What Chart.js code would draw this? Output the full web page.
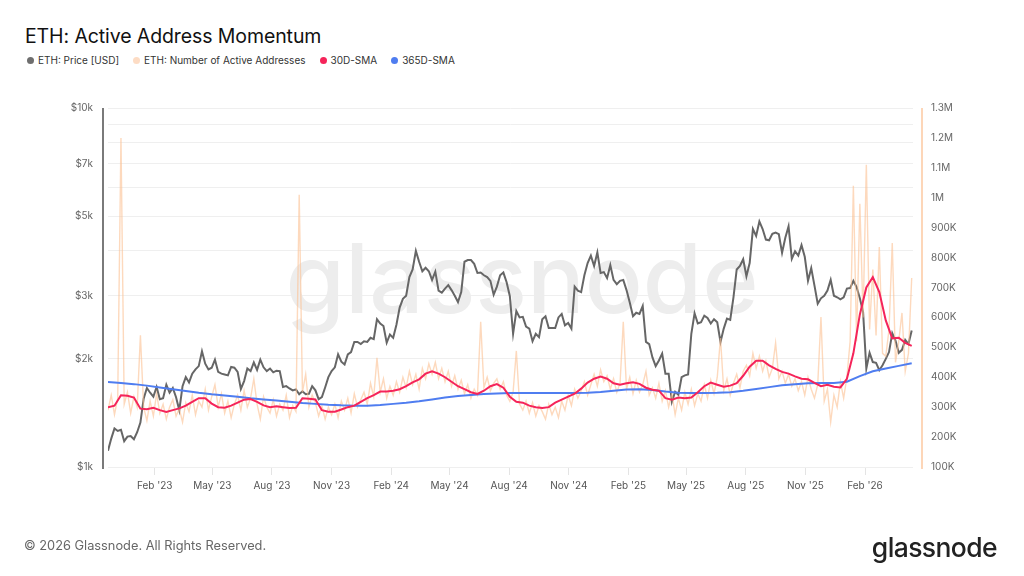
<!DOCTYPE html>
<html>
<head>
<meta charset="utf-8">
<script src="https://cdn.jsdelivr.net/npm/chart.js@4.4.0/dist/chart.umd.min.js"></script>
<style>
  html, body { margin: 0; padding: 0; background: #fff; }
  body { width: 1024px; height: 576px; position: relative; overflow: hidden; font-family: Inter, "Noto Sans", sans-serif; }
  #mycanvas { position: absolute; left: 0; top: 0; }
  .title { position: absolute; left: 25px; top: 24px; font-size: 19.5px; color: #111; letter-spacing: -0.1px; }
  .legend { position: absolute; left: 27px; top: 54px; display: flex; font-size: 10px; color: #333; }
  .legend span { display: flex; align-items: center; margin-right: 14px; }
  .legend i { width: 7px; height: 7px; border-radius: 50%; margin-right: 4px; display: inline-block; }
  .copy { position: absolute; left: 24px; top: 538px; font-size: 12.8px; color: #666; }
  .logo { position: absolute; right: 27px; top: 531px; font-size: 26.5px; color: #222; letter-spacing: -0.6px; font-weight: 500; }
</style>
</head>
<body>
<div class="title">ETH: Active Address Momentum</div>
<div class="legend">
  <span><i style="background:#6e6e6e"></i>ETH: Price [USD]</span>
  <span><i style="background:#fddcc4"></i>ETH: Number of Active Addresses</span>
  <span><i style="background:#f5245a"></i>30D-SMA</span>
  <span><i style="background:#4f7df0"></i>365D-SMA</span>
</div>
<canvas id="mycanvas" width="1024" height="576"></canvas>
<div class="copy">© 2026 Glassnode. All Rights Reserved.</div>
<div class="logo">glassnode</div>
<script>
// dates are days since startDate
const startDate = "2022-11-21";
const lastDay = 1242;
const dailyStep = 5;   // price + addresses sampled every 5 days
const sma30Step = 10;
const sma365Step = 20;

const xTickDates = ["2023-02-01", "2023-05-01", "2023-08-01", "2023-11-01", "2024-02-01", "2024-05-01",
  "2024-08-01", "2024-11-01", "2025-02-01", "2025-05-01", "2025-08-01", "2025-11-01", "2026-02-01"];
const xTickLabels = ["Feb '23", "May '23", "Aug '23", "Nov '23", "Feb '24", "May '24",
  "Aug '24", "Nov '24", "Feb '25", "May '25", "Aug '25", "Nov '25", "Feb '26"];

const priceTicks = [1000, 2000, 3000, 4000, 5000, 6000, 7000, 8000, 9000, 10000];
const priceTickLabels = { 1000: "$1k", 2000: "$2k", 3000: "$3k", 5000: "$5k", 7000: "$7k", 10000: "$10k" };

// ETH price, USD
const ethPrice = [
  1110, 1200, 1280, 1260, 1270, 1180, 1215, 1220, 1195, 1250,
  1330, 1550, 1660, 1610, 1570, 1670, 1545, 1555, 1695, 1610,
  1660, 1565, 1440, 1680, 1780, 1720, 1820, 1870, 1910, 2100,
  1940, 1870, 1890, 1990, 1840, 1820, 1810, 1800, 1900, 1890,
  1840, 1650, 1735, 1880, 1850, 1955, 1865, 1990, 1895, 1850,
  1880, 1835, 1855, 1850, 1670, 1680, 1655, 1635, 1645, 1595,
  1625, 1595, 1600, 1680, 1635, 1545, 1565, 1665, 1780, 1850,
  1895, 2060, 1965, 1930, 2060, 2090, 2230, 2230, 2200, 2240,
  2230, 2290, 2270, 2580, 2510, 2470, 2220, 2340, 2290, 2490,
  2780, 2940, 3000, 3380, 3550, 4000, 3730, 3510, 3590, 3510,
  3320, 3500, 3100, 3060, 3140, 3210, 3110, 3000, 2880, 3070,
  3730, 3770, 3770, 3680, 3470, 3480, 3420, 3380, 3300, 3020,
  3180, 3420, 3480, 3270, 2990, 2350, 2720, 2610, 2620, 2460,
  2430, 2240, 2350, 2300, 2580, 2630, 2440, 2440, 2440, 2610,
  2670, 2480, 2520, 2430, 3180, 3100, 3070, 3420, 3700, 3880,
  3630, 3960, 3470, 3490, 3360, 3650, 3320, 3230, 3300, 3320,
  3110, 2870, 2630, 2690, 2670, 2810, 2230, 2200, 2020, 1910,
  1980, 2070, 1820, 1820, 1520, 1620, 1590, 1780, 1800, 1810,
  2350, 2680, 2510, 2530, 2640, 2600, 2510, 2580, 2530, 2230,
  2430, 2590, 2570, 2970, 3550, 3630, 3790, 3400, 3700, 4600,
  4400, 4830, 4600, 4300, 4280, 4460, 4500, 4450, 3950, 4350,
  4680, 3800, 3990, 3880, 4150, 3850, 3300, 3580, 3200, 2850,
  2950, 3000, 3100, 3320, 3000, 2970, 2930, 2970, 3140, 3150,
  3300, 3170, 2950, 2700, 1880, 2080, 1960, 1950, 1860, 1920,
  2000, 2090, 2360, 2250, 2080, 2120, 2260, 2200, 2400
];

// active addresses, thousands
const activeAddrK = [
  290, 340, 275, 330, 1200, 310, 350, 280, 335, 300,
  540, 300, 255, 320, 270, 345, 280, 310, 260, 300,
  325, 270, 295, 250, 315, 285, 340, 275, 320, 300,
  360, 290, 335, 375, 300, 345, 280, 320, 265, 310,
  340, 290, 355, 300, 330, 395, 310, 260, 335, 300,
  280, 325, 270, 310, 290, 340, 265, 305, 285, 1010,
  350, 410, 300, 340, 315, 270, 305, 260, 300, 275,
  310, 265, 320, 290, 330, 280, 345, 300, 325, 350,
  310, 380, 335, 465, 350, 395, 330, 370, 340, 385,
  350, 400, 365, 420, 375, 410, 360, 430, 395, 445,
  410, 450, 395, 430, 385, 420, 370, 405, 360, 390,
  345, 375, 330, 360, 340, 585, 365, 400, 355, 380,
  395, 360, 385, 340, 320, 350, 488, 310, 290, 320,
  280, 315, 270, 305, 285, 260, 310, 275, 300, 265,
  320, 290, 340, 305, 360, 330, 355, 385, 340, 375,
  410, 370, 425, 385, 405, 360, 395, 350, 380, 585,
  360, 400, 345, 390, 350, 375, 420, 340, 365, 330,
  380, 320, 355, 300, 345, 275, 330, 290, 350, 310,
  360, 305, 345, 320, 375, 330, 390, 345, 400, 531,
  355, 395, 340, 380, 410, 365, 420, 440, 405, 480,
  430, 470, 420, 455, 400, 430, 515, 395, 420, 380,
  410, 370, 395, 355, 385, 340, 400, 360, 330, 375,
  601, 320, 360, 250, 340, 300, 385, 330, 400, 520,
  1040, 520, 980, 600, 1110, 560, 760, 540, 835, 480,
  470, 560, 849, 450, 520, 615, 420, 480, 732
];

// 30-day SMA of active addresses, thousands
const sma30K = [
  300, 305, 340, 338, 332, 295, 293, 298, 290, 284,
  290, 296, 305, 318, 330, 330, 312, 300, 298, 305,
  315, 325, 327, 318, 306, 300, 303, 300, 297, 298,
  330, 328, 326, 290, 285, 285, 292, 300, 305, 318,
  330, 340, 352, 352, 355, 360, 370, 383, 393, 412,
  420, 412, 400, 385, 370, 360, 350, 344, 355, 370,
  377, 365, 335, 318, 315, 305, 300, 297, 300, 315,
  325, 335, 345, 362, 382, 395, 402, 395, 380, 375,
  380, 383, 378, 365, 358, 355, 330, 325, 332, 330,
  332, 350, 370, 382, 375, 368, 372, 380, 405, 435,
  455, 455, 440, 428, 418, 412, 403, 395, 393, 381,
  370, 375, 368, 366, 395, 480, 610, 700, 735, 685,
  590, 530, 532, 515, 505
];

// 365-day SMA of active addresses, thousands
const sma365K = [
  384, 381, 377, 372, 366, 360, 354, 348, 343, 339,
  335, 330, 326, 322, 318, 314, 311, 308, 306, 305,
  305, 307, 311, 315, 320, 326, 332, 337, 341, 344,
  346, 347, 347, 347, 347, 347, 347, 348, 351, 355,
  359, 360, 357, 352, 348, 347, 347, 348, 350, 355,
  361, 367, 373, 377, 380, 381, 381, 385, 404, 420,
  429, 438, 447
];

function dayOf(iso) {
  return (Date.parse(iso) - Date.parse(startDate)) / 86400000;
}
function toPoints(values, step, mult) {
  return values.map((v, i) => ({ x: i * step, y: v * mult }));
}
const xTickDays = xTickDates.map(dayOf);

const axisDecor = {
  id: "axisDecor",
  beforeDatasetsDraw(chart) {
    const { ctx } = chart;
    ctx.save();
    ctx.font = "500 96px Inter";
    ctx.fillStyle = "#ededed";
    ctx.textAlign = "center";
    ctx.textBaseline = "alphabetic";
    ctx.fillText("glassnode", 522, 313);
    ctx.restore();
  },
  afterDatasetsDraw(chart) {
    const { ctx, chartArea } = chart;
    ctx.save();
    ctx.lineWidth = 2;
    ctx.strokeStyle = "#7a7a7a";
    ctx.beginPath();
    ctx.moveTo(chartArea.left - 5, chartArea.top);
    ctx.lineTo(chartArea.left - 5, chartArea.bottom + 2);
    ctx.stroke();
    ctx.strokeStyle = "#fdd6b8";
    ctx.beginPath();
    ctx.moveTo(chartArea.right + 9, chartArea.top);
    ctx.lineTo(chartArea.right + 9, chartArea.bottom + 2);
    ctx.stroke();
    ctx.restore();
  }
};

const tickFont = { family: "Inter", size: 10 };

let chart = new Chart(document.getElementById("mycanvas"), {
  type: "line",
  data: {
    datasets: [
      {
        label: "ETH: Price [USD]",
        data: toPoints(ethPrice, dailyStep, 1),
        yAxisID: "yPrice",
        borderColor: "#666666",
        borderWidth: 2,
        order: 4
      },
      {
        label: "ETH: Number of Active Addresses",
        data: toPoints(activeAddrK, dailyStep, 1000),
        yAxisID: "yAddr",
        borderColor: "rgba(252, 192, 145, 0.6)",
        borderWidth: 1.4,
        order: 3
      },
      {
        label: "30D-SMA",
        data: toPoints(sma30K, sma30Step, 1000),
        yAxisID: "yAddr",
        borderColor: "#f5245a",
        borderWidth: 2,
        order: 1
      },
      {
        label: "365D-SMA",
        data: toPoints(sma365K, sma365Step, 1000),
        yAxisID: "yAddr",
        borderColor: "#4f7df0",
        borderWidth: 2,
        order: 2
      }
    ]
  },
  options: {
    responsive: false,
    animation: false,
    devicePixelRatio: 1,
    layout: { padding: { top: 108, left: 0, right: 0, bottom: 0 } },
    elements: { point: { radius: 0 }, line: { tension: 0 } },
    plugins: { legend: { display: false }, tooltip: { enabled: false } },
    scales: {
      x: {
        type: "linear",
        min: 0,
        max: lastDay,
        afterBuildTicks: (scale) => { scale.ticks = xTickDays.map(v => ({ value: v })); },
        afterFit: (scale) => { scale.height = 109; },
        ticks: {
          autoSkip: false,
          maxRotation: 0,
          padding: 5,
          color: "#555",
          font: tickFont,
          callback: (value, index) => xTickLabels[index]
        },
        grid: { drawOnChartArea: false, drawTicks: true, tickLength: 8, color: "#e4e4e4" },
        border: { display: false }
      },
      yPrice: {
        type: "logarithmic",
        position: "left",
        min: 1000,
        max: 10000,
        afterBuildTicks: (scale) => { scale.ticks = priceTicks.map(v => ({ value: v })); },
        afterFit: (scale) => { scale.width = 108; },
        ticks: {
          padding: 15,
          color: "#666",
          font: tickFont,
          callback: (value) => priceTickLabels[value] || ""
        },
        grid: { color: "#efefef", drawTicks: false },
        border: { display: false }
      },
      yAddr: {
        type: "linear",
        position: "right",
        min: 100000,
        max: 1300000,
        afterFit: (scale) => { scale.width = 111; },
        ticks: {
          stepSize: 100000,
          padding: 18,
          color: "#666",
          font: tickFont,
          callback: (value) => value >= 1000000 ? (value / 1000000) + "M" : (value / 1000) + "K"
        },
        grid: { drawOnChartArea: false, drawTicks: false },
        border: { display: false }
      }
    }
  },
  plugins: [axisDecor]
});
</script>
</body>
</html>
